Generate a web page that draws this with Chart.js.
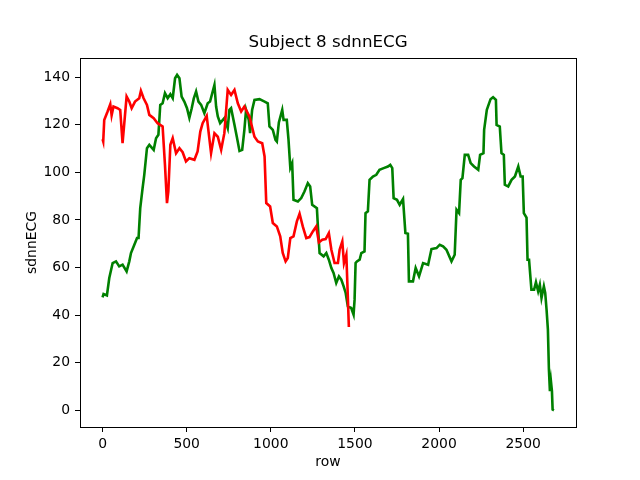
<!DOCTYPE html>
<html>
<head>
<meta charset="utf-8">
<script src="https://cdn.jsdelivr.net/npm/chart.js@4.4.1/dist/chart.umd.min.js"></script>
<style>
	html, body { margin: 0; padding: 0; background: #fff; }
	#wrap { width: 640px; height: 480px; }
</style>
</head>
<body>
<div id="wrap"><canvas id="sdnnChart" width="640" height="480"></canvas></div>
<script>
// Subject 8 - sdnnECG theo row
const redRows = [0, 4, 10, 30, 46, 54, 65, 89, 105, 119, 143, 159, 173, 193, 218, 228, 244, 264, 278, 304,
	327, 357, 371, 383, 391, 403, 417, 437, 457, 476, 496, 516, 546, 565, 581, 595, 619, 645, 665, 685,
	705, 724, 744, 764, 784, 804, 824, 843, 873, 903, 923, 949, 963, 973, 996, 1012, 1036, 1056, 1071, 1088,
	1101, 1116, 1135, 1155, 1171, 1190, 1211, 1230, 1250, 1270, 1286, 1306, 1326, 1345, 1360, 1379, 1399, 1409, 1425, 1435,
	1449, 1455, 1464];
const redValues = [114, 113, 122, 125.6, 128.7, 124, 127.7, 127, 126.3, 112.3, 131.9, 129.8, 127, 129.8, 131.2, 134.3, 131.2, 128.4, 124.2, 122.8,
	120.7, 119.3, 103.2, 87.1, 92, 111.6, 114.4, 108.1, 110.2, 108.5, 104.6, 106, 105.3, 108.8, 117.2, 120.7, 123.8, 108.1, 116.5, 115,
	109.5, 116.5, 134.7, 132.6, 134.7, 129.1, 125.6, 127.7, 123.5, 115, 113, 112.3, 106.7, 87.1, 85.7, 78.7, 77.3, 73.1, 66.1, 62.6,
	64, 72.4, 73.1, 79.4, 82.6, 77.3, 72.4, 72.8, 75.2, 77.3, 70.6, 71.7, 72, 74.5, 67.5, 61.9, 61.9, 67.5, 71, 61.9,
	65.4, 53.5, 35];

const greenRows = [0, 6, 26, 40, 60, 80, 99, 119, 143, 159, 169, 189, 205, 214, 224, 238, 248, 264, 278, 304,
	318, 332, 343, 357, 371, 387, 403, 417, 431, 443, 457, 470, 486, 502, 516, 530, 542, 556, 570, 586,
	605, 625, 639, 665, 675, 685, 699, 724, 744, 754, 764, 784, 798, 814, 830, 843, 853, 869, 877, 889,
	903, 933, 963, 982, 992, 1012, 1028, 1036, 1048, 1068, 1076, 1095, 1105, 1116, 1127, 1135, 1161, 1181, 1200, 1220,
	1234, 1246, 1274, 1280, 1290, 1314, 1330, 1345, 1360, 1373, 1389, 1405, 1419, 1433, 1445, 1458, 1478, 1492, 1498, 1504,
	1512, 1528, 1538, 1557, 1563, 1577, 1587, 1607, 1627, 1646, 1671, 1696, 1710, 1722, 1730, 1750, 1766, 1786, 1800, 1815,
	1821, 1845, 1861, 1881, 1905, 1935, 1955, 1985, 2004, 2024, 2044, 2074, 2093, 2104, 2119, 2129, 2139, 2153, 2173, 2188,
	2208, 2233, 2244, 2264, 2268, 2284, 2306, 2321, 2338, 2342, 2361, 2371, 2385, 2391, 2411, 2431, 2451, 2471, 2485, 2497,
	2504, 2520, 2526, 2535, 2549, 2565, 2576, 2589, 2599, 2609, 2623, 2631, 2639, 2647, 2653, 2659, 2665, 2671, 2675, 2683];
const greenValues = [47.5, 48.9, 48.3, 55.6, 61.9, 62.6, 60.5, 61.2, 58.4, 62.6, 66.1, 69.6, 72.4, 72.4, 85, 93.4, 99, 110.2, 111.6, 109.5,
	114.4, 115.8, 128.4, 129.1, 133.3, 131.2, 132.9, 131.2, 139.6, 141, 139.6, 131.9, 129.8, 127, 123, 127, 131, 134, 129.8, 128.4,
	124.9, 129.1, 129.8, 136.8, 127.7, 123.5, 120.7, 122.8, 118.6, 126.3, 127, 120, 115, 109, 109.5, 117.9, 126.3, 122.1, 116.5, 126.3,
	130.5, 130.8, 129.8, 129.1, 119.3, 117.9, 113.7, 113, 121, 126.3, 122.1, 122.1, 114, 102, 103.9, 88.5, 87.8, 89.2, 92, 95.5,
	94.1, 86.4, 85, 77.3, 66.1, 64.7, 66.1, 63.3, 59.8, 57.7, 53.5, 56.3, 54.9, 52.1, 49.3, 43.7, 43, 40.2, 46.5, 61.9,
	62.6, 63.3, 66.1, 66.8, 82.9, 83.6, 96.9, 98.3, 99, 101.1, 101.8, 102.5, 103.2, 101.8, 89.2, 88.5, 86.4, 88.8, 74.5, 74.2,
	54.2, 54.2, 59.8, 56.3, 61.9, 61.2, 67.8, 68.2, 69.6, 68.9, 67.5, 62.6, 65.4, 84.3, 82.9, 96.9, 97.6, 107.4, 107.4, 103.9,
	102.5, 101.1, 107.4, 108.1, 117.9, 126.3, 130.8, 131.6, 130.5, 120, 119.3, 108.1, 107.4, 94.8, 94.1, 96.9, 98.3, 102.5, 98.3, 98.3,
	82.9, 81, 63.3, 63.3, 50.7, 50.7, 53.8, 50, 52.8, 47.2, 52.1, 49.3, 42.3, 33.9, 17.1, 8, 12.2, 8, 0.3, 0];

const xTicks = [0, 500, 1000, 1500, 2000, 2500];
const yTicks = [0, 20, 40, 60, 80, 100, 120, 140];

function toPoints(rows, values) {
	return rows.map((r, i) => ({ x: r, y: values[i] }));
}

const FONT = "'DejaVu Sans', sans-serif";

// khung viền 4 cạnh như matplotlib
const frame = {
	id: 'frame',
	afterDraw(chart) {
		const a = chart.chartArea;
		const ctx = chart.ctx;
		ctx.save();
		ctx.strokeStyle = '#000';
		ctx.lineWidth = 1;
		ctx.strokeRect(Math.round(a.left) + 0.5, Math.round(a.top) + 0.5,
			Math.round(a.right - a.left), Math.round(a.bottom - a.top));
		ctx.restore();
	}
};

const ctx = document.getElementById('sdnnChart').getContext('2d');
new Chart(ctx, {
	type: 'line',
	data: {
		datasets: [{
			label: 'red',
			data: toPoints(redRows, redValues),
			borderColor: '#ff0000',
			borderWidth: 2.6,
			pointRadius: 0,
			tension: 0,
			fill: false
		}, {
			label: 'green',
			data: toPoints(greenRows, greenValues),
			borderColor: '#008000',
			borderWidth: 2.6,
			pointRadius: 0,
			tension: 0,
			fill: false
		}]
	},
	options: {
		responsive: false,
		animation: false,
		devicePixelRatio: 1,
		layout: { padding: { left: 0, right: 64, top: 0, bottom: 0 } },
		plugins: {
			legend: { display: false },
			tooltip: { enabled: false },
			title: {
				display: true,
				fullSize: false,
				text: 'Subject 8 sdnnECG',
				color: '#000',
				font: { family: FONT, size: 16.7, weight: 'normal', lineHeight: 1.2 },
				padding: { top: 33, bottom: 5 }
			}
		},
		scales: {
			x: {
				type: 'linear',
				min: -134,
				max: 2814,
				afterFit: scale => { scale.height = 53; },
				afterBuildTicks: scale => { scale.ticks = xTicks.map(v => ({ value: v })); },
				grid: { display: true, drawOnChartArea: false, drawTicks: true, tickLength: 5, color: '#000' },
				border: { display: true, color: '#000', width: 1 },
				ticks: { color: '#000', padding: 4, maxRotation: 0, font: { family: FONT, size: 13.9 },
					callback: v => String(v) },
				title: {
					display: true,
					text: 'row',
					color: '#000',
					font: { family: FONT, size: 13.9 },
					padding: { top: 0, bottom: 9.7 }
				}
			},
			y: {
				type: 'linear',
				min: -7.05,
				max: 148.1,
				afterFit: scale => { scale.width = 80; },
				afterBuildTicks: scale => { scale.ticks = yTicks.map(v => ({ value: v })); },
				grid: { display: true, drawOnChartArea: false, drawTicks: true, tickLength: 5, color: '#000' },
				border: { display: true, color: '#000', width: 1 },
				ticks: { color: '#000', padding: 5, font: { family: FONT, size: 13.9 },
					callback: v => String(v) },
				title: {
					display: true,
					text: 'sdnnECG',
					color: '#000',
					font: { family: FONT, size: 13.9 },
					padding: { top: 23.7, bottom: 0 }
				}
			}
		}
	},
	plugins: [frame]
});
</script>
</body>
</html>
